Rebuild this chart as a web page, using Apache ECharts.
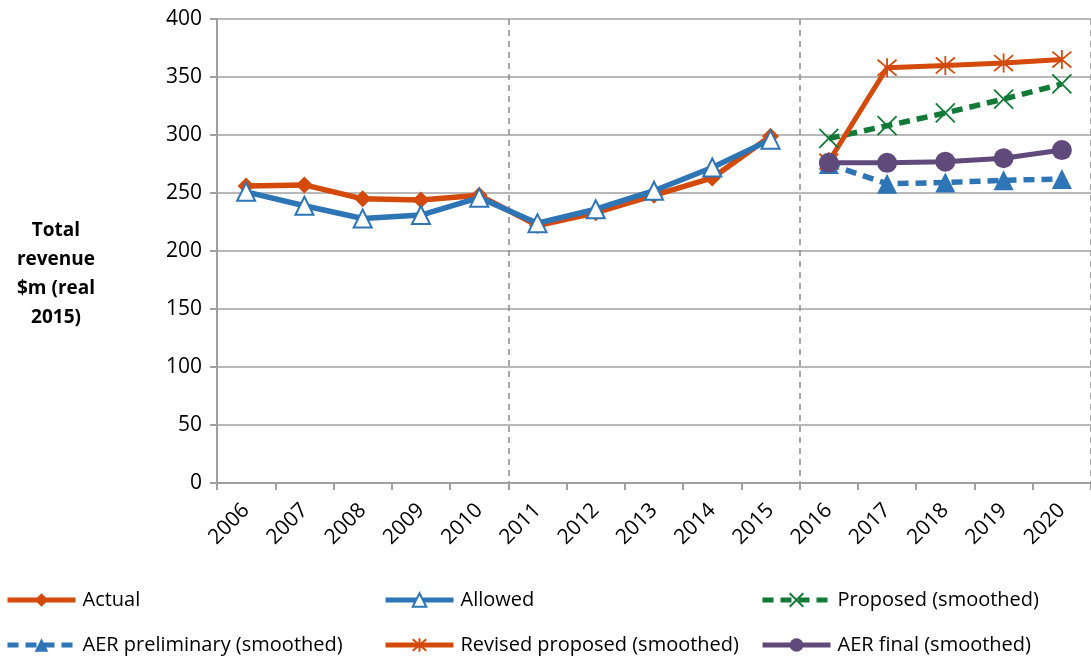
<!DOCTYPE html>
<html>
<head>
<meta charset="utf-8">
<script src="https://cdn.jsdelivr.net/npm/echarts@6/dist/echarts.min.js"></script>
<style>
  html, body { margin: 0; padding: 0; background: #fff; }
  #chart { width: 1091px; height: 662px; }
</style>
</head>
<body>
<div id="chart"></div>
<script>
// data
const years = ["2006", "2007", "2008", "2009", "2010", "2011", "2012", "2013", "2014", "2015", "2016", "2017", "2018", "2019", "2020"];
const actual = [256, 257, 245, 244, 248, 222, 233, 248, 263, 299, null, null, null, null, null];
const allowed = [251, 239, 228, 231, 246, 224, 236, 252, 272, 296, null, null, null, null, null];
const proposed = [null, null, null, null, null, null, null, null, null, null, 297, 308, 319, 331, 344];
const aerPrelim = [null, null, null, null, null, null, null, null, null, null, 275, 258, 259, 261, 262];
const revised = [null, null, null, null, null, null, null, null, null, null, 277, 358, 360, 362, 365];
const aerFinal = [null, null, null, null, null, null, null, null, null, null, 276, 276, 277, 280, 287];

const ORANGE = "#d34a0b";
const BLUE = "#2e75b6";
const GREEN = "#117a37";
const PURPLE = "#604a7b";
const FONT = "'Open Sans', sans-serif";

const crossPath = "path://M0,0L10,10M10,0L0,10";
const starPath = "path://M0,0L10,10M10,0L0,10M5,-1L5,11";

function legendAt(name, left, top) {
  return {
    data: [name], left: left, top: top,
    itemWidth: 68, itemHeight: 17,
    lineStyle: { width: 5 },
    textStyle: { fontFamily: FONT, fontSize: 20, color: "#000", padding: [0, 0, 0, 2] },
  };
}

const chart = echarts.init(document.getElementById("chart"));
chart.setOption({
  animation: false,
  grid: { left: 217, top: 19, width: 880, bottom: 179 },
  legend: [
    legendAt("Actual", 0, 585),
    legendAt("Allowed", 378, 585),
    legendAt("Proposed (smoothed)", 755, 585),
    legendAt("AER preliminary (smoothed)", 0, 630),
    legendAt("Revised proposed (smoothed)", 378, 630),
    legendAt("AER final (smoothed)", 755, 630),
  ],
  graphic: [{
    type: "text", left: 56 - 45, top: 216,
    style: {
      text: "Total\nrevenue\n$m (real\n2015)",
      font: "bold 19px 'Open Sans', sans-serif",
      fill: "#000", textAlign: "center", lineHeight: 29, width: 90,
      x: 45,
    },
  }],
  xAxis: {
    type: "category", data: years, boundaryGap: true,
    axisLine: { lineStyle: { color: "#a0a0a0", width: 2 } },
    axisTick: { show: true, length: 7, interval: 0, lineStyle: { color: "#a0a0a0", width: 2 } },
    axisLabel: { rotate: 45, interval: 0, margin: 24, fontFamily: FONT, fontSize: 21, color: "#000" },
    splitLine: {
      show: true,
      interval: function (i) { return i === 5 || i === 10; },
      lineStyle: { color: "#8c8c8c", width: 1.5, type: [6, 5] },
    },
  },
  yAxis: {
    type: "value", min: 0, max: 400, interval: 50,
    axisLine: { show: true, lineStyle: { color: "#a0a0a0", width: 2 } },
    axisTick: { show: true, length: 7, lineStyle: { color: "#a0a0a0", width: 2 } },
    axisLabel: { margin: 15, fontFamily: FONT, fontSize: 21, color: "#000" },
    splitLine: { lineStyle: { color: "#a0a0a0", width: 1.5 } },
  },
  series: [
    {
      name: "Actual", type: "line", data: actual,
      symbol: "diamond", symbolSize: 17,
      lineStyle: { color: ORANGE, width: 5.5 },
      itemStyle: { color: ORANGE },
    },
    {
      name: "Allowed", type: "line", data: allowed,
      symbol: "triangle", symbolSize: 18,
      lineStyle: { color: BLUE, width: 5.5 },
      itemStyle: { color: "#fff", borderColor: BLUE, borderWidth: 2 },
    },
    {
      name: "Proposed (smoothed)", type: "line", data: proposed,
      symbol: crossPath, symbolSize: 19,
      lineStyle: { color: GREEN, width: 5.5, type: [11, 7] },
      itemStyle: { color: "none", borderColor: GREEN, borderWidth: 1.8 },
    },
    {
      name: "AER preliminary (smoothed)", type: "line", data: aerPrelim,
      symbol: "triangle", symbolSize: 20,
      lineStyle: { color: BLUE, width: 5.5, type: [11, 7] },
      itemStyle: { color: BLUE },
    },
    {
      name: "Revised proposed (smoothed)", type: "line", data: revised,
      symbol: starPath, symbolSize: 19,
      lineStyle: { color: ORANGE, width: 5 },
      itemStyle: { color: "none", borderColor: ORANGE, borderWidth: 1.8 },
    },
    {
      name: "AER final (smoothed)", type: "line", data: aerFinal,
      symbol: "circle", symbolSize: 20,
      lineStyle: { color: PURPLE, width: 5 },
      itemStyle: { color: PURPLE },
    },
  ],
});
</script>
</body>
</html>
